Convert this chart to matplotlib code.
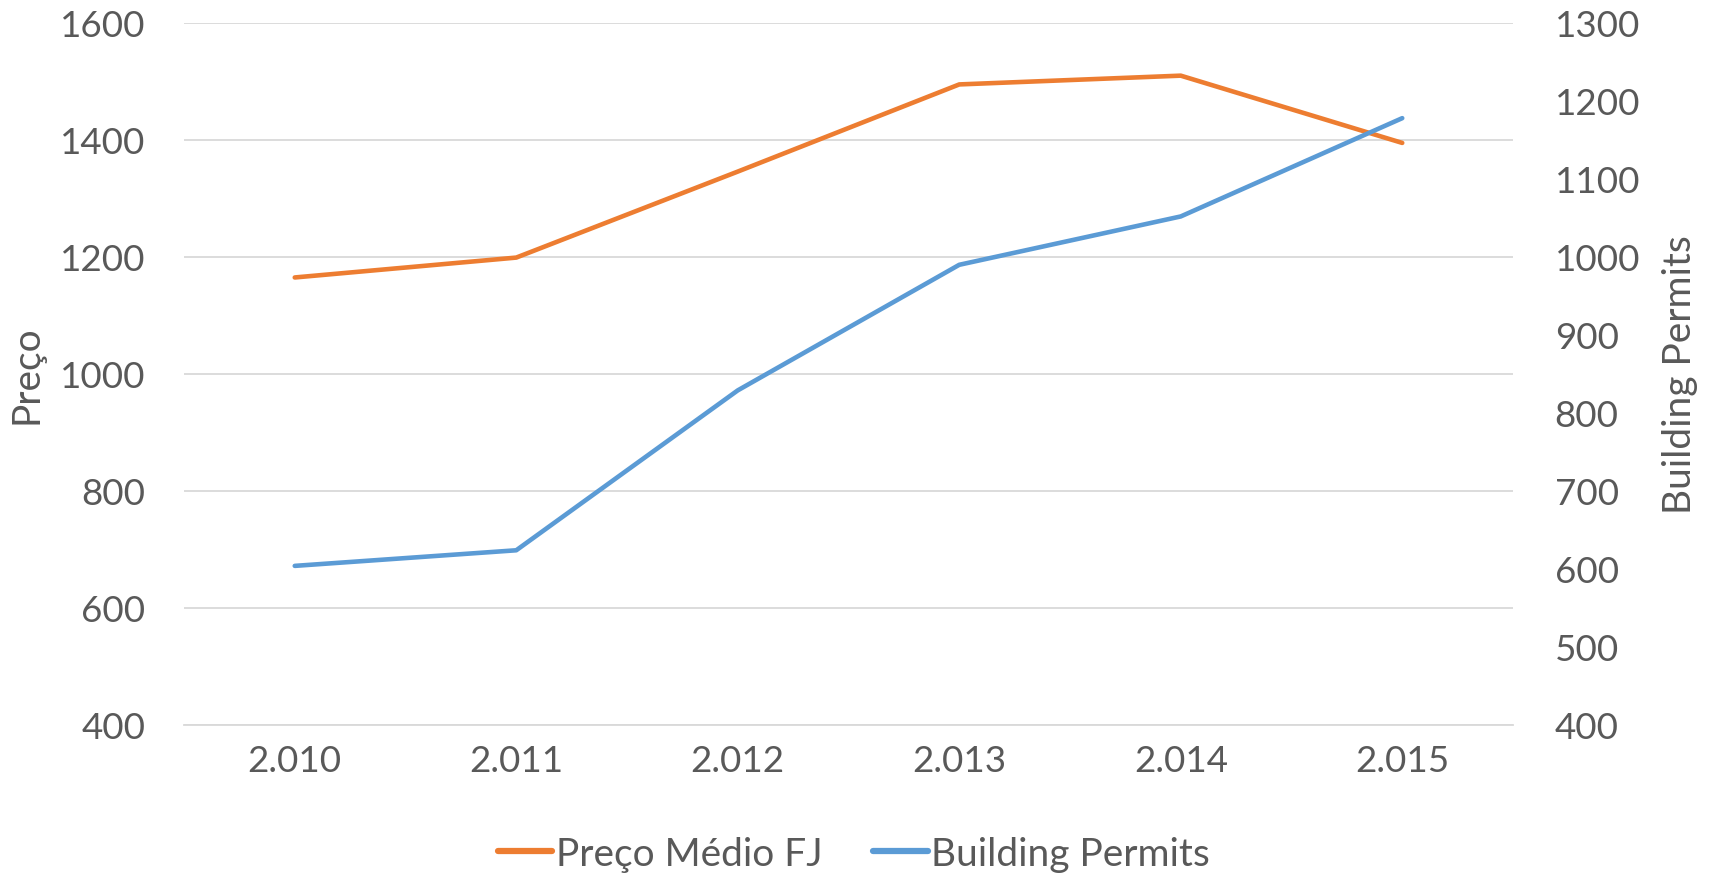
import matplotlib
matplotlib.use("Agg")
import matplotlib.pyplot as plt
from matplotlib.ticker import FixedLocator

anos = ["2.010", "2.011", "2.012", "2.013", "2.014", "2.015"]
preco = [1165, 1199, 1346, 1495, 1510, 1395]
permits = [604, 624, 829, 990, 1052, 1178]

cor_texto = "#595959"
plt.rcParams["font.family"] = ["Lato", "DejaVu Sans"]
plt.rcParams["font.size"] = 26.5

fig = plt.figure(figsize=(17.13, 8.78), dpi=100)
ax = fig.add_axes([184 / 1713, 1 - 726 / 878, (1513 - 184) / 1713, (726 - 24) / 878])
ax2 = ax.twinx()

x = list(range(len(anos)))
l1, = ax.plot(x, preco, color="#ED7D31", lw=3.3, solid_capstyle="round", label="Preço Médio FJ")
l2, = ax2.plot(x, permits, color="#5B9BD5", lw=3.3, solid_capstyle="round", label="Building Permits")

ax.set_xlim(-0.5, len(anos) - 0.5)
ax.set_ylim(400, 1600)
ax2.set_ylim(400, 1300)
ax.yaxis.set_major_locator(FixedLocator(range(400, 1601, 200)))
ax2.yaxis.set_major_locator(FixedLocator(range(400, 1301, 100)))
ax.set_xticks(x)
ax.set_xticklabels(anos)

ax.grid(axis="y", color="#d9d9d9", lw=1.3)
ax.set_axisbelow(True)
for a in (ax, ax2):
    for s in a.spines.values():
        s.set_visible(False)
ax.spines["bottom"].set_visible(True)
ax.spines["bottom"].set_color("#d9d9d9")
ax.spines["bottom"].set_linewidth(1.3)

ax.tick_params(axis="y", length=0, pad=28, colors=cor_texto)
ax.tick_params(axis="x", length=0, pad=14, colors=cor_texto)
ax2.tick_params(axis="y", length=0, pad=30, colors=cor_texto)

# titulos dos eixos
fig.text(27 / 1713, 1 - 375 / 878, "Preço", rotation=90, ha="center", va="center",
         fontsize=28, color=cor_texto)
fig.text(1680 / 1713, 1 - 375 / 878, "Building Permits", rotation=90, ha="center",
         va="center", fontsize=28, color=cor_texto)

leg = fig.legend(handles=[l1, l2], loc="center", bbox_to_anchor=(0.4985, 1 - 855 / 878),
                 ncol=2, frameon=False, fontsize=28, handlelength=1.4, handletextpad=0.1,
                 columnspacing=1.3, labelcolor=cor_texto)
for ln in leg.get_lines():
    ln.set_linewidth(4.5)

fig.savefig("out.png", dpi=100)
